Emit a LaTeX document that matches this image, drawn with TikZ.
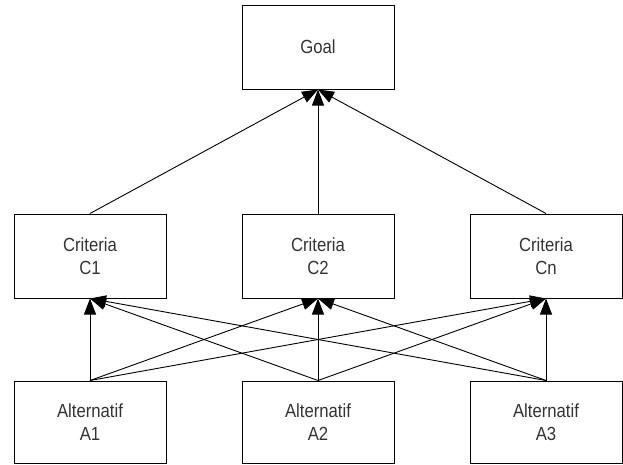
\documentclass[tikz,border=0pt]{standalone}
\usepackage{fontspec}
\newfontfamily\boxfont[FakeStretch=0.88]{Liberation Sans}
\usetikzlibrary{arrows.meta}
\begin{document}
\begin{tikzpicture}[x=1pt,y=-1pt,
  box/.style={draw=black, line width=1pt, minimum width=152pt, minimum height=84pt,
    inner sep=0pt, align=center, font=\boxfont\fontsize{19}{23}\selectfont, text=black!80},
  abox/.style={box, minimum height=82pt},
  link/.style={line width=0.9pt, -{Triangle[length=16pt,width=12pt]}}]
\useasboundingbox (0,0) rectangle (623,464);
\node[box] (goal) at (318,47) {Goal};
\node[box] (c1) at (90,256) {Criteria\\C1};
\node[box] (c2) at (318,256) {Criteria\\C2};
\node[box] (cn) at (546,256) {Criteria\\Cn};
\node[abox] (a1) at (90,422) {Alternatif\\A1};
\node[abox] (a2) at (318,422) {Alternatif\\A2};
\node[abox] (a3) at (546,422) {Alternatif\\A3};
\foreach \c in {c1,c2,cn} \draw[link] (\c.north) -- (goal.south);
\foreach \a in {a1,a2,a3} \foreach \c in {c1,c2,cn} \draw[link] (\a.north) -- (\c.south);
\end{tikzpicture}
\end{document}
